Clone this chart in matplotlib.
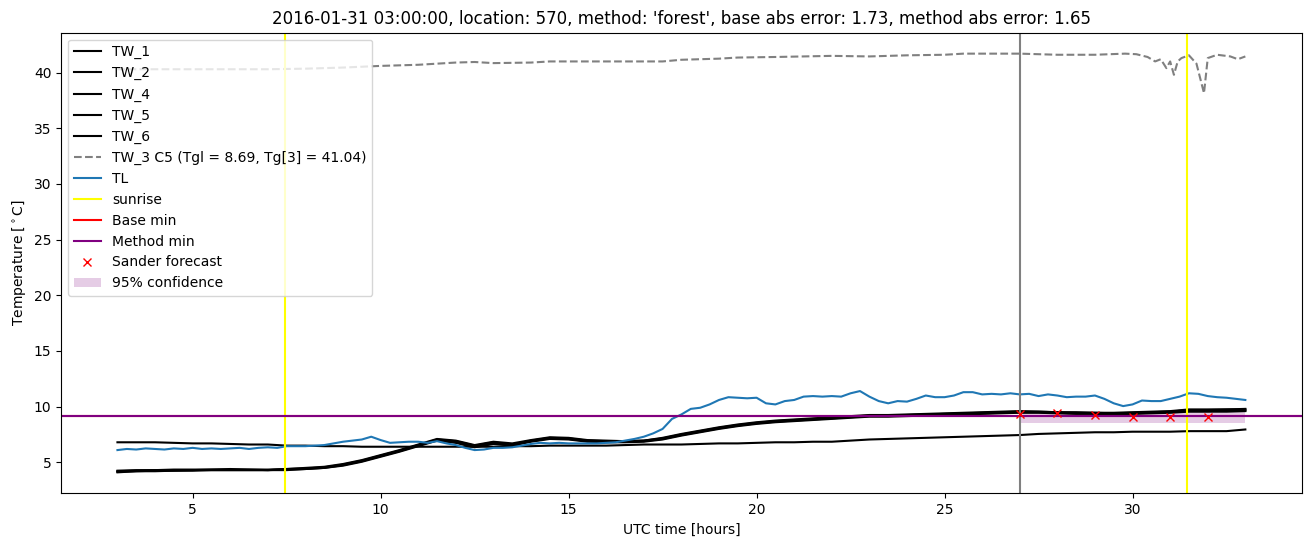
import matplotlib
matplotlib.use("Agg")
import matplotlib.pyplot as plt
import numpy as np

# water temperature sensors, 0.5 h grid from 3 to 33 UTC
tw_hours = np.arange(3.0, 33.01, 0.5)
tw_1 = [6.8, 6.8, 6.8, 6.75, 6.7, 6.7, 6.65, 6.6, 6.6, 6.5,
        6.5, 6.45, 6.45, 6.4, 6.4, 6.4, 6.4, 6.4, 6.4, 6.4,
        6.4, 6.45, 6.45, 6.5, 6.5, 6.5, 6.5, 6.55, 6.6, 6.6,
        6.6, 6.65, 6.7, 6.7, 6.75, 6.8, 6.8, 6.85, 6.85, 6.95,
        7.05, 7.1, 7.15, 7.2, 7.25, 7.3, 7.35, 7.4, 7.45, 7.55,
        7.6, 7.65, 7.7, 7.7, 7.75, 7.75, 7.75, 7.8, 7.8, 7.8, 7.95]
tw_2 = [4.15, 4.2, 4.25, 4.25, 4.3, 4.3, 4.3, 4.3, 4.3, 4.35,
        4.4, 4.5, 4.75, 5.1, 5.55, 6.0, 6.5, 7.0, 6.8, 6.4,
        6.7, 6.55, 6.9, 7.15, 7.1, 6.9, 6.85, 6.85, 6.9, 7.1,
        7.45, 7.75, 8.05, 8.3, 8.5, 8.65, 8.75, 8.85, 8.95, 9.05,
        9.15, 9.15, 9.2, 9.25, 9.3, 9.35, 9.4, 9.45, 9.5, 9.5,
        9.45, 9.4, 9.4, 9.35, 9.4, 9.45, 9.5, 9.6, 9.6, 9.65, 9.65]
tw_4 = [4.2, 4.25, 4.3, 4.3, 4.3, 4.35, 4.35, 4.35, 4.3, 4.4,
        4.45, 4.55, 4.8, 5.15, 5.6, 6.05, 6.55, 7.05, 6.9, 6.5,
        6.8, 6.6, 6.95, 7.2, 7.15, 6.95, 6.9, 6.9, 6.95, 7.15,
        7.5, 7.8, 8.1, 8.35, 8.55, 8.7, 8.8, 8.9, 9.0, 9.1,
        9.2, 9.2, 9.25, 9.3, 9.35, 9.4, 9.45, 9.5, 9.55, 9.55,
        9.5, 9.45, 9.45, 9.4, 9.45, 9.5, 9.55, 9.7, 9.7, 9.75, 9.75]
tw_5 = [4.1, 4.2, 4.2, 4.25, 4.25, 4.3, 4.3, 4.3, 4.3, 4.3,
        4.4, 4.5, 4.7, 5.05, 5.5, 5.95, 6.45, 6.95, 6.75, 6.35,
        6.65, 6.5, 6.85, 7.1, 7.05, 6.85, 6.8, 6.8, 6.85, 7.05,
        7.4, 7.7, 8.0, 8.25, 8.45, 8.6, 8.7, 8.8, 8.9, 9.0,
        9.1, 9.1, 9.15, 9.2, 9.25, 9.3, 9.35, 9.4, 9.45, 9.45,
        9.4, 9.35, 9.35, 9.3, 9.35, 9.4, 9.45, 9.55, 9.55, 9.55, 9.6]
tw_6 = [4.25, 4.3, 4.3, 4.35, 4.35, 4.35, 4.4, 4.35, 4.35, 4.4,
        4.5, 4.6, 4.85, 5.2, 5.65, 6.1, 6.6, 7.1, 6.95, 6.55,
        6.85, 6.7, 7.0, 7.25, 7.2, 7.0, 6.95, 6.9, 6.95, 7.2,
        7.55, 7.85, 8.15, 8.4, 8.6, 8.75, 8.85, 8.95, 9.05, 9.15,
        9.25, 9.25, 9.3, 9.35, 9.4, 9.45, 9.5, 9.55, 9.6, 9.55,
        9.5, 9.5, 9.45, 9.45, 9.5, 9.55, 9.6, 9.75, 9.75, 9.75, 9.8]

tw_3_hours = [3.0, 7.0, 8.0, 9.0, 10.0, 11.0, 12.0, 12.5, 13.0, 14.0,
              14.5, 16.0, 17.5, 18.0, 19.0, 19.5, 20.5, 22.0, 23.0, 24.0,
              25.0, 25.5, 27.0, 28.0, 29.0, 29.8, 30.1, 30.4, 30.6, 30.75,
              30.9, 31.0, 31.1, 31.2, 31.3, 31.5, 31.7, 31.9, 32.0, 32.25,
              32.6, 32.8, 33.0]
tw_3 = [40.3, 40.3, 40.35, 40.45, 40.6, 40.7, 40.9, 40.95, 40.85, 40.9,
        41.0, 41.0, 41.0, 41.15, 41.25, 41.35, 41.4, 41.5, 41.45, 41.55,
        41.6, 41.7, 41.7, 41.6, 41.6, 41.7, 41.65, 41.4, 41.0, 41.2,
        40.4, 41.0, 39.8, 41.0, 41.3, 41.55, 40.8, 38.15, 41.3, 41.6,
        41.45, 41.2, 41.45]

# air temperature, 0.25 h grid from 3 to 33 UTC
tl_hours = np.arange(3.0, 33.01, 0.25)
tl = [6.1, 6.2, 6.15, 6.25,
      6.2, 6.15, 6.25, 6.2,
      6.3, 6.2, 6.25, 6.2,
      6.25, 6.3, 6.2, 6.3,
      6.35, 6.3, 6.45, 6.45,
      6.45, 6.5, 6.55, 6.7,
      6.85, 6.95, 7.05, 7.3,
      7.0, 6.75, 6.8, 6.85,
      6.85, 6.75, 6.9, 6.7,
      6.55, 6.3, 6.1, 6.15,
      6.3, 6.3, 6.35, 6.5,
      6.65, 6.75, 6.7, 6.75,
      6.7, 6.7, 6.7, 6.7,
      6.75, 6.8, 6.95, 7.1,
      7.3, 7.6, 8.0, 8.9,
      9.3, 9.8, 9.9, 10.2,
      10.6, 10.85, 10.8, 10.75,
      10.8, 10.3, 10.2, 10.5,
      10.6, 10.9, 10.95, 10.9,
      10.95, 10.9, 11.2, 11.4,
      10.9, 10.5, 10.3, 10.5,
      10.45, 10.7, 11.0, 10.85,
      10.85, 11.0, 11.3, 11.3,
      11.1, 11.15, 11.1, 11.2,
      11.1, 11.15, 10.95, 11.1,
      11.0, 10.85, 10.9, 10.9,
      11.0, 10.7, 10.3, 10.05,
      10.2, 10.55, 10.5, 10.5,
      10.7, 10.9, 11.2, 11.15,
      10.95, 10.85, 10.8, 10.7,
      10.6]

sunrise_hours = [7.45, 31.44]
forecast_hour = 27.0
base_min = 9.12
method_min = 9.12

sander_hours = [27, 28, 29, 30, 31, 32]
sander_values = [9.3, 9.4, 9.25, 9.1, 9.05, 9.1]
conf_hours = [27.0, 33.0]
conf_low = [8.5, 8.5]
conf_high = [9.48, 9.48]

fig = plt.figure(figsize=(13.1, 5.47), dpi=100)
ax = fig.add_subplot(111)
fig.subplots_adjust(left=0.0466, right=0.9937, top=0.9402, bottom=0.0982)

for name, vals in [("TW_1", tw_1), ("TW_2", tw_2), ("TW_4", tw_4), ("TW_5", tw_5), ("TW_6", tw_6)]:
    ax.plot(tw_hours, vals, color="black", label=name)
ax.plot(tw_3_hours, tw_3, color="gray", linestyle="--", label="TW_3 C5 (Tgl = 8.69, Tg[3] = 41.04)")
ax.plot(tl_hours, tl, color="tab:blue", label="TL")
ax.axvline(forecast_hour, color="gray")
ax.axvline(sunrise_hours[0], color="yellow", label="sunrise")
ax.axvline(sunrise_hours[1], color="yellow")
ax.axhline(base_min, color="red", label="Base min")
ax.axhline(method_min, color="purple", label="Method min")
ax.plot(sander_hours, sander_values, "x", color="red", label="Sander forecast")
ax.fill_between(conf_hours, conf_low, conf_high, color="purple", alpha=0.2, linewidth=0, label="95% confidence")

ax.set_xlabel("UTC time [hours]")
ax.set_ylabel("Temperature [$^\\circ$C]")
ax.set_title("2016-01-31 03:00:00, location: 570, method: 'forest', base abs error: 1.73, method abs error: 1.65")
ax.legend(loc="upper left")
fig.savefig("out.png")
